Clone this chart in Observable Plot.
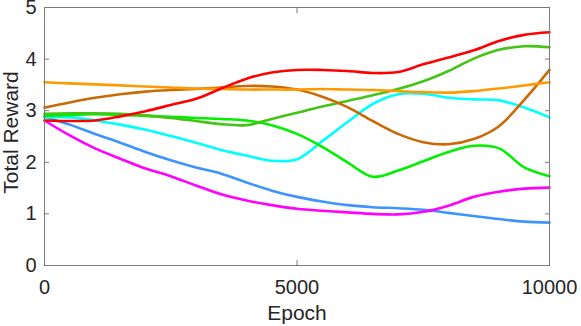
<!DOCTYPE html>
<html>
<head>
<meta charset="utf-8">
<script src="https://cdn.jsdelivr.net/npm/d3@7"></script>
<script src="https://cdn.jsdelivr.net/npm/@observablehq/plot@0.6"></script>
<style>
  html, body { margin: 0; padding: 0; background: #fff; }
  #chart svg { display: block; }
</style>
</head>
<body>
<div id="chart"></div>
<script>
const epochs = [0,500,1000,1500,2000,2500,3000,3500,4000,4500,5000,5500,6000,6500,7000,7500,8000,8500,9000,9500,10000];

const runA = [2.88,2.73,2.55,2.38,2.20,2.04,1.90,1.78,1.61,1.45,1.33,1.24,1.17,1.13,1.11,1.08,1.02,0.96,0.90,0.85,0.83];
const runB = [2.81,2.52,2.27,2.07,1.88,1.73,1.55,1.38,1.26,1.17,1.10,1.06,1.03,1.00,0.99,1.04,1.16,1.33,1.43,1.49,1.51];
const runC = [2.87,2.87,2.81,2.73,2.63,2.51,2.38,2.24,2.13,2.03,2.06,2.41,2.78,3.13,3.32,3.33,3.25,3.22,3.20,3.06,2.87];
const runD = [2.90,2.92,2.93,2.92,2.90,2.88,2.86,2.84,2.81,2.72,2.55,2.30,2.00,1.72,1.84,2.02,2.20,2.32,2.27,1.90,1.73];
const runE = [2.94,2.95,2.95,2.94,2.91,2.86,2.80,2.74,2.72,2.84,2.96,3.08,3.19,3.30,3.42,3.57,3.77,4.01,4.18,4.25,4.23];
const runF = [3.06,3.16,3.25,3.32,3.37,3.40,3.42,3.45,3.48,3.47,3.41,3.27,3.07,2.80,2.55,2.39,2.35,2.45,2.70,3.21,3.79];
const runG = [3.55,3.53,3.51,3.49,3.47,3.45,3.43,3.42,3.41,3.41,3.41,3.42,3.41,3.40,3.38,3.36,3.35,3.38,3.43,3.49,3.55];
const runH = [2.81,2.80,2.81,2.89,2.99,3.11,3.23,3.43,3.62,3.74,3.79,3.79,3.77,3.73,3.75,3.90,4.03,4.17,4.35,4.47,4.52];

const seriesNames  = ["run A","run B","run C","run D","run E","run F","run G","run H"];
const seriesValues = [runA, runB, runC, runD, runE, runF, runG, runH];
const seriesColors = ["#3d94ff","#ff00ff","#00ffff","#00f000","#44c414","#c96a06","#ff9a00","#ff0000"];

const xTicks = [0, 5000, 10000];
const yTicks = [0, 1, 2, 3, 4, 5];
const xLabel = "Epoch";
const yLabel = "Total Reward";

const rows = [];
seriesNames.forEach((name, i) => {
  epochs.forEach((e, j) => rows.push({series: name, epoch: e, value: seriesValues[i][j]}));
});

const axisColor = "#262626";
const fontSize = 20;

const chart = Plot.plot({
  width: 581,
  height: 326,
  marginLeft: 44,
  marginRight: 32,
  marginTop: 7,
  marginBottom: 61,
  style: {fontFamily: "'Liberation Sans', Arial, Helvetica, sans-serif", background: "#fff"},
  x: {domain: [0, 10000]},
  y: {domain: [0, 5]},
  color: {type: "ordinal", domain: seriesNames, range: seriesColors},
  marks: [
    ...seriesNames.map(name =>
      Plot.line(rows.filter(r => r.series === name), {
        x: "epoch", y: "value", stroke: "series",
        strokeWidth: 2.6, curve: "catmull-rom"
      })
    ),
    Plot.frame({stroke: "#7a7a7a", strokeWidth: 1}),
    Plot.axisX(xTicks, {anchor: "bottom", tickSize: -5, tickFormat: () => "", label: null, stroke: "#7a7a7a"}),
    Plot.axisX(xTicks, {anchor: "top", tickSize: -5, tickFormat: () => "", label: null, stroke: "#7a7a7a"}),
    Plot.axisY(yTicks, {anchor: "left", tickSize: -5, tickFormat: () => "", label: null, stroke: "#7a7a7a"}),
    Plot.axisY(yTicks, {anchor: "right", tickSize: -5, tickFormat: () => "", label: null, stroke: "#7a7a7a"}),
    Plot.axisX(xTicks, {anchor: "bottom", tickSize: 0, tickPadding: 14, fontSize, fill: axisColor, label: null, tickFormat: d => String(d)}),
    Plot.axisY(yTicks, {anchor: "left", tickSize: 0, tickPadding: 8, fontSize, fill: axisColor, label: null, tickFormat: d => String(d)}),
    Plot.text([xLabel], {frameAnchor: "bottom", text: d => d, textAnchor: "middle", lineAnchor: "middle", dy: 47.5, fontSize: 21, fill: axisColor}),
    Plot.text([yLabel], {frameAnchor: "left", text: d => d, rotate: -90, textAnchor: "middle", lineAnchor: "middle", dx: -33.5, dy: -4, fontSize: 21, fill: axisColor, letterSpacing: "1.4px"})
  ]
});

document.getElementById("chart").appendChild(chart);
</script>
</body>
</html>
